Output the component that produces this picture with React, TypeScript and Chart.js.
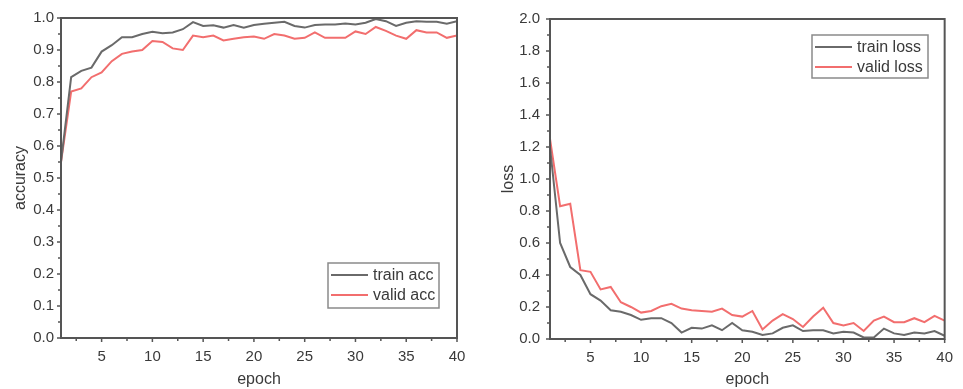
import React, { useEffect, useRef } from "react";
import { Chart, registerables } from "chart.js";

Chart.register(...registerables);

const epochs = [1, 2, 3, 4, 5, 6, 7, 8, 9, 10, 11, 12, 13, 14, 15, 16, 17, 18, 19, 20, 21, 22, 23, 24, 25, 26, 27, 28, 29, 30, 31, 32, 33, 34, 35, 36, 37, 38, 39, 40];

const trainAcc = [0.55, 0.815, 0.835, 0.845, 0.895, 0.915, 0.94, 0.94, 0.95, 0.957, 0.952, 0.955, 0.965, 0.987, 0.975, 0.977, 0.97, 0.978, 0.97, 0.978, 0.982, 0.985, 0.988, 0.975, 0.97, 0.978, 0.98, 0.98, 0.983, 0.98, 0.985, 0.997, 0.99, 0.975, 0.985, 0.99, 0.988, 0.988, 0.982, 0.99];
const validAcc = [0.55, 0.77, 0.78, 0.815, 0.83, 0.865, 0.888, 0.895, 0.9, 0.928, 0.925, 0.905, 0.9, 0.945, 0.94, 0.945, 0.93, 0.935, 0.94, 0.942, 0.935, 0.95, 0.945, 0.935, 0.938, 0.955, 0.938, 0.938, 0.938, 0.958, 0.95, 0.972, 0.96, 0.945, 0.935, 0.962, 0.955, 0.955, 0.938, 0.945];

const trainLoss = [1.2, 0.6, 0.45, 0.4, 0.28, 0.24, 0.18, 0.17, 0.15, 0.12, 0.13, 0.13, 0.1, 0.04, 0.07, 0.065, 0.085, 0.055, 0.1, 0.055, 0.045, 0.025, 0.035, 0.07, 0.085, 0.05, 0.055, 0.055, 0.035, 0.045, 0.04, 0.01, 0.01, 0.065, 0.035, 0.025, 0.04, 0.035, 0.05, 0.02];
const validLoss = [1.25, 0.83, 0.845, 0.43, 0.42, 0.31, 0.325, 0.23, 0.2, 0.165, 0.175, 0.205, 0.22, 0.19, 0.18, 0.175, 0.17, 0.19, 0.15, 0.14, 0.175, 0.06, 0.115, 0.155, 0.125, 0.075, 0.14, 0.195, 0.1, 0.085, 0.1, 0.05, 0.115, 0.14, 0.105, 0.105, 0.13, 0.105, 0.145, 0.115];

const epochTicks = [5, 10, 15, 20, 25, 30, 35, 40];
const epochMinorTicks = [2.5, 7.5, 12.5, 17.5, 22.5, 27.5, 32.5, 37.5];
const accTicks = [0, 0.1, 0.2, 0.3, 0.4, 0.5, 0.6, 0.7, 0.8, 0.9, 1.0];
const accMinorTicks = [0.05, 0.15, 0.25, 0.35, 0.45, 0.55, 0.65, 0.75, 0.85, 0.95];
const lossTicks = [0, 0.2, 0.4, 0.6, 0.8, 1.0, 1.2, 1.4, 1.6, 1.8, 2.0];
const lossMinorTicks = [0.1, 0.3, 0.5, 0.7, 0.9, 1.1, 1.3, 1.5, 1.7, 1.9];

const AXIS = "#555555";
const GRAY = "#6a6a6a";
const RED = "#f26e6e";
const TEXT = "#3a3a3a";
const FONT = "'Liberation Sans', Arial, Helvetica, sans-serif";

const framePlugin = {
  id: "frame",
  afterDraw(chart: any, _args: any, opts: any) {
    const { ctx, chartArea: a, scales } = chart;
    const x = scales.x;
    const y = scales.y;
    ctx.save();
    ctx.strokeStyle = AXIS;
    ctx.lineWidth = 1.5;
    ctx.beginPath();
    for (const v of opts.xMajor) {
      const px = x.getPixelForValue(v);
      ctx.moveTo(px, a.bottom);
      ctx.lineTo(px, a.bottom + 4);
    }
    for (const v of opts.xMinor) {
      const px = x.getPixelForValue(v);
      ctx.moveTo(px, a.bottom);
      ctx.lineTo(px, a.bottom + 3);
    }
    for (const v of opts.yMajor) {
      const py = y.getPixelForValue(v);
      ctx.moveTo(a.left, py);
      ctx.lineTo(a.left - 4, py);
    }
    for (const v of opts.yMinor) {
      const py = y.getPixelForValue(v);
      ctx.moveTo(a.left, py);
      ctx.lineTo(a.left - 3, py);
    }
    ctx.stroke();
    ctx.lineWidth = 2;
    ctx.strokeRect(a.left, a.top, a.right - a.left, a.bottom - a.top);
    ctx.restore();
  },
};

const legendPlugin = {
  id: "boxLegend",
  afterDraw(chart: any, _args: any, opts: any) {
    const { ctx } = chart;
    const { left, top, width, height } = opts;
    ctx.save();
    ctx.fillStyle = "#ffffff";
    ctx.fillRect(left, top, width, height);
    ctx.strokeStyle = "#8a8a8a";
    ctx.lineWidth = 1.5;
    ctx.strokeRect(left, top, width, height);
    ctx.font = `16px ${FONT}`;
    ctx.textBaseline = "middle";
    chart.data.datasets.forEach((ds: any, i: number) => {
      const ry = top + 12 + i * 20;
      ctx.strokeStyle = ds.borderColor;
      ctx.lineWidth = 2;
      ctx.beginPath();
      ctx.moveTo(left + 3, ry);
      ctx.lineTo(left + 40, ry);
      ctx.stroke();
      ctx.fillStyle = TEXT;
      ctx.fillText(ds.label, left + 45, ry + 1);
    });
    ctx.restore();
  },
};

function makeConfig(p: any) {
  const pts = (vals: number[]) => epochs.map((e, i) => ({ x: e, y: vals[i] }));
  return {
    type: "line",
    data: {
      datasets: [
        { label: p.labels[0], data: pts(p.series[0]), borderColor: GRAY, borderWidth: 2, pointRadius: 0, tension: 0 },
        { label: p.labels[1], data: pts(p.series[1]), borderColor: RED, borderWidth: 2, pointRadius: 0, tension: 0 },
      ],
    },
    options: {
      responsive: false,
      animation: false,
      devicePixelRatio: 1,
      layout: { padding: { top: p.padTop, right: p.padRight, left: 0, bottom: 0 } },
      plugins: {
        legend: { display: false },
        tooltip: { enabled: false },
        frame: { xMajor: epochTicks, xMinor: epochMinorTicks, yMajor: p.yTicks, yMinor: p.yMinor },
        boxLegend: p.legendBox,
      },
      scales: {
        x: {
          type: "linear",
          min: 1,
          max: 40,
          grid: { display: false, drawTicks: false },
          border: { display: false },
          afterBuildTicks: (s: any) => {
            s.ticks = epochTicks.map((v) => ({ value: v }));
          },
          afterFit: (s: any) => {
            s.height = p.xHeight;
          },
          ticks: {
            padding: 10,
            maxRotation: 0,
            autoSkip: false,
            color: TEXT,
            font: { family: FONT, size: 15 },
            callback: (v: any) => String(v),
          },
          title: { display: true, text: "epoch", color: TEXT, font: { family: FONT, size: 16 }, padding: { top: 0, bottom: 0 } },
        },
        y: {
          type: "linear",
          min: 0,
          max: p.yMax,
          grid: { display: false, drawTicks: false },
          border: { display: false },
          afterBuildTicks: (s: any) => {
            s.ticks = p.yTicks.map((v: number) => ({ value: v }));
          },
          afterFit: (s: any) => {
            s.width = p.yWidth;
          },
          ticks: {
            padding: p.yPad,
            autoSkip: false,
            color: TEXT,
            font: { family: FONT, size: 15 },
            callback: (v: any) => Number(v).toFixed(1),
          },
          title: { display: true, text: p.yTitle, color: TEXT, font: { family: FONT, size: 16 }, padding: { top: p.yTitlePad, bottom: 0 } },
        },
      },
    },
    plugins: [framePlugin, legendPlugin],
  };
}

function ChartCanvas(props: { cfg: any; left: number }) {
  const ref = useRef<HTMLCanvasElement | null>(null);
  useEffect(() => {
    if (!ref.current) return;
    const chart = new Chart(ref.current, props.cfg);
    return () => chart.destroy();
  }, []);
  return (
    <canvas
      ref={ref}
      width={480}
      height={389}
      style={{ position: "absolute", left: props.left, top: 0, width: 480, height: 389 }}
    />
  );
}

export default function App() {
  const accCfg = makeConfig({
    labels: ["train acc", "valid acc"],
    series: [trainAcc, validAcc],
    yTicks: accTicks,
    yMinor: accMinorTicks,
    yMax: 1,
    yTitle: "accuracy",
    yWidth: 61,
    yPad: 7,
    yTitlePad: 11,
    xHeight: 51,
    padTop: 18,
    padRight: 23,
    legendBox: { left: 328, top: 263, width: 111, height: 45 },
  });
  const lossCfg = makeConfig({
    labels: ["train loss", "valid loss"],
    series: [trainLoss, validLoss],
    yTicks: lossTicks,
    yMinor: lossMinorTicks,
    yMax: 2,
    yTitle: "loss",
    yWidth: 67,
    yPad: 10,
    yTitlePad: 16,
    xHeight: 50,
    padTop: 16,
    padRight: 14,
    legendBox: { left: 329, top: 35, width: 116, height: 43 },
  });
  return (
    <div style={{ position: "absolute", left: 0, top: 0, width: 963, height: 389, background: "#fff" }}>
      <ChartCanvas cfg={accCfg} left={0} />
      <ChartCanvas cfg={lossCfg} left={483} />
    </div>
  );
}
